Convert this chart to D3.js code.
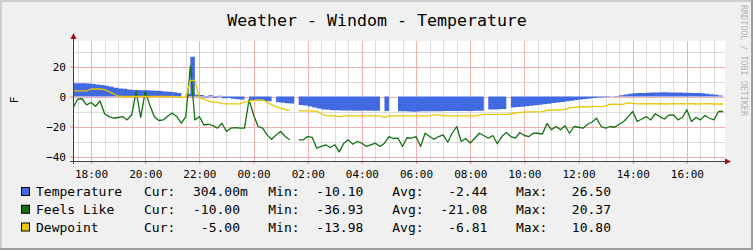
<!DOCTYPE html>
<html>
<head>
<meta charset="utf-8">
<script src="https://d3js.org/d3.v7.min.js"></script>
<style>
  body { margin: 0; background: #f0f0f0; }
  svg { display: block; font-family: "DejaVu Sans Mono", monospace; }
</style>
</head>
<body>
<svg id="chart" width="753" height="250"></svg>
<script>
// ------------- DATA ------------- //
// one sample every 10 minutes, from 17:20 to 17:20 the next day (null = no data)
var startHour = 17, startMinute = 20;
var stepMinutes = 10;

var temperature = [
  8.9, 8.9, 8.8, 8.6, 8.4, 8.0, 7.6, 7.2, 6.5, 5.9,
  5.4, 5.1, 4.7, 4.4, 4.3, 4.2, 4.1, 4.0, 3.8, 3.6,
  3.3, 3.1, 2.8, 2.4, null, 1.8, 26.5, 1.2, 1.0, -0.6,
  0.8, -0.8, 0.5, -1.2, -1.0, -1.5, -1.8, -2.0, null, -2.3,
  -2.5, -2.7, -3.0, -3.2, null, -3.8, -4.2, -4.5, -4.6, null,
  -5.6, -6.0, -6.6, -7.3, -8.0, -8.6, -8.9, -9.1, -9.2, -9.3,
  -9.4, -9.4, -9.5, -9.5, -9.4, -9.5, -9.5, -9.5, null, -9.7,
  null, null, -9.8, -9.9, -10.0, -10.1, -10.0, -9.9, -9.9, -9.8,
  -9.8, -9.8, -9.7, -9.7, -9.7, -9.6, -9.6, -9.6, -9.6, -9.5,
  -9.5, null, -8.6, -8.6, -8.5, -8.4, null, -7.3, -7.0, -6.8,
  -6.5, -6.2, -5.9, -5.5, -5.1, -4.8, -4.4, -4.0, -3.6, -3.2,
  -2.8, -2.4, -2.0, -1.6, -1.3, -1.0, -0.7, -0.5, -0.3, -0.1,
  0.3, 0.8, 1.3, 1.8, 2.1, 2.3, 2.4, 2.5, 2.6, 2.7,
  2.8, 2.8, 2.7, 2.6, 2.6, 2.5, 2.5, 2.4, 2.3, 2.1,
  1.9, 1.5, 1.1, 0.7, 0.3
];

var feelsLike = [
  -7.8, -1.8, -1.5, -5.6, -4.0, -6.5, -3.0, -11.5, -13.4, -14.5,
  -14.0, -13.4, -15.6, -12.2, 3.3, -14.0, 3.3, -5.6, -13.4, -16.0,
  -15.6, -13.0, -11.1, -13.4, -17.8, -13.4, 20.37, -15.6, -13.4, -19.0,
  -18.5, -19.4, -21.1, -17.8, -23.3, -21.1, -20.7, -21.1, -21.1, -2.2,
  -12.2, -20.0, -21.1, -25.6, -28.5, -25.6, -23.3, -26.7, -28.9, null,
  -28.9, -28.9, -26.7, -27.3, -34.5, -33.3, -32.2, -34.0, -32.2, -36.93,
  -31.1, -28.9, -31.8, -30.0, -31.1, -33.3, -32.2, -31.1, -33.3, -31.1,
  -26.7, -28.0, -27.8, -33.3, -27.5, -27.8, -26.7, -33.3, -24.5, -26.7,
  -28.5, -26.7, -25.6, -30.5, -24.5, -20.0, -30.0, -28.0, -31.0, -27.8,
  -24.5, -26.0, -27.8, -26.0, -31.5, -26.7, -24.0, -26.7, -27.8, -24.0,
  -26.0, -26.7, -24.5, -24.5, -25.0, -18.0, -22.2, -20.0, -22.2, -19.5,
  -24.5, -20.0, -20.5, -21.1, -18.5, -17.0, -14.5, -20.0, -21.1, -20.0,
  -20.5, -18.5, -16.7, -13.4, -10.0, -16.7, -15.0, -13.4, -15.6, -11.5,
  -13.4, -15.0, -12.5, -12.2, -15.6, -14.0, -8.9, -16.7, -14.0, -15.6,
  -12.7, -14.5, -15.6, -10.0, -10.0
];

var dewpoint = [
  3.7, 3.7, 3.7, 3.7, 5.0, 5.0, 5.0, 4.6, 3.3, 1.8,
  0.2, 0, 0, 0, 0, 0, 0, 0, 0, 0,
  0, 0, 0, -0.3, -0.5, -0.5, 10.8, 10.8, -1.0, -1.8,
  -3.0, -3.8, -3.8, -4.8, -4.9, -4.9, -4.9, -4.9, -3.6, -3.4,
  -2.6, -2.2, -2.3, -3.8, -5.4, -6.8, -7.8, -8.6, -9.4, null,
  -9.6, -9.6, -9.6, -9.7, -9.9, -11.5, -12.8, -12.9, -12.9, -13.4,
  -12.9, -12.9, -12.9, -12.9, -12.9, -12.9, -12.9, -12.9, -12.9, -13.98,
  -12.9, -12.9, -12.9, -12.9, -12.9, -12.9, -12.9, -12.9, -12.9, -12.9,
  -12.3, -12.3, -12.9, -12.9, -12.9, -12.9, -12.9, -12.9, -12.9, -12.9,
  -12.4, -11.9, -11.9, -11.9, -11.9, -11.9, -11.9, -11.5, -11.0, -10.6,
  -10.4, -10.3, -10.3, -10.2, -10.1, -9.3, -9.0, -9.0, -8.9, -8.6,
  -7.5, -7.3, -7.0, -6.8, -6.9, -6.6, -6.8, -6.7, -6.2, -5.2,
  -5.1, -5.2, -5.1, -4.2, -4.6, -4.9, -4.8, -4.9, -4.7, -4.9,
  -4.8, -5.0, -4.9, -4.8, -4.9, -4.7, -4.9, -4.8, -5.0, -4.9,
  -4.9, -4.8, -5.0, -5.0, -5.0
];

var yMajorTicks = [-40, -20, 0, 20];
var yMinorTicks = [-30, -10, 10, 30];

var seriesNames = ["Temperature", "Feels Like", "Dewpoint"];
var curValues = ["304.00", "-10.00", "-5.00"];
var curUnits = ["m", "", ""];
var minValues = ["-10.10", "-36.93", "-13.98"];
var avgValues = ["-2.44", "-21.08", "-6.81"];
var maxValues = ["26.50", "20.37", "10.80"];

// ------------- STYLE ------------- //
var colTemp = "#4169e1";
var colFeels = "#127112";
var colDew = "#e8c800";
var colors = [colTemp, colFeels, colDew];

var plotLeft = 73, plotRight = 723, plotTop = 41, plotBottom = 161;

var svg = d3.select("#chart");

// ------------- SCALES ------------- //
var t0 = new Date(2020, 0, 1, startHour, startMinute);
var t1 = d3.timeDay.offset(t0, 1);
function sampleTime(i) { return d3.timeMinute.offset(t0, i * stepMinutes); }

var x = d3.scaleTime().domain([t0, t1]).range([plotLeft, plotRight]);
var y = d3.scaleLinear().domain([-43, 37]).range([plotBottom, plotTop]);

// ------------- BACKGROUND ------------- //
svg.append("rect").attr("width", 753).attr("height", 250).attr("fill", "#f0f0f0");
svg.append("path").attr("d", "M0,1H752M1,0V249").attr("stroke", "#cfcfcf").attr("stroke-width", 2);
svg.append("path").attr("d", "M0,249H753M752,0V250").attr("stroke", "#9e9e9e").attr("stroke-width", 2);
svg.append("rect").attr("x", plotLeft).attr("y", plotTop).attr("width", plotRight - plotLeft + 2)
  .attr("height", plotBottom - plotTop).attr("fill", "#ffffff");

// ------------- GRID ------------- //
var grid = svg.append("g").attr("shape-rendering", "crispEdges");
grid.selectAll(".vmin").data(x.ticks(d3.timeMinute.every(30))).enter().append("line")
  .attr("x1", function(d) { return Math.round(x(d)) + 0.5; })
  .attr("x2", function(d) { return Math.round(x(d)) + 0.5; })
  .attr("y1", plotTop).attr("y2", plotBottom).attr("stroke", "#dcdcdc");
grid.selectAll(".hmin").data(yMinorTicks).enter().append("line")
  .attr("x1", plotLeft).attr("x2", plotRight + 2)
  .attr("y1", function(d) { return Math.round(y(d)) + 0.5; })
  .attr("y2", function(d) { return Math.round(y(d)) + 0.5; })
  .attr("stroke", "#dcdcdc");
grid.selectAll(".vmaj").data(x.ticks(d3.timeHour.every(2))).enter().append("line")
  .attr("x1", function(d) { return Math.round(x(d)) + 0.5; })
  .attr("x2", function(d) { return Math.round(x(d)) + 0.5; })
  .attr("y1", plotTop).attr("y2", plotBottom).attr("stroke", "#f4b0b0");
grid.selectAll(".hmaj").data(yMajorTicks).enter().append("line")
  .attr("x1", plotLeft).attr("x2", plotRight + 2)
  .attr("y1", function(d) { return Math.round(y(d)) + 0.5; })
  .attr("y2", function(d) { return Math.round(y(d)) + 0.5; })
  .attr("stroke", "#f4b0b0");

// ------------- SERIES ------------- //
svg.append("clipPath").attr("id", "plot").append("rect")
  .attr("x", plotLeft).attr("y", plotTop - 5).attr("width", plotRight - plotLeft)
  .attr("height", plotBottom - plotTop + 5);
var plot = svg.append("g").attr("clip-path", "url(#plot)");

// each sample of the area holds its value until the next sample (like rrdtool)
var areaPts = [];
temperature.forEach(function(v, i) {
  areaPts.push({ t: sampleTime(i), v: v });
  areaPts.push({ t: sampleTime(i + 1), v: v });
  if (v == null) areaPts.push({ t: sampleTime(i + 1), v: null });
});
var area = d3.area()
  .defined(function(d) { return d.v != null; })
  .x(function(d) { return x(d.t); })
  .y0(y(0))
  .y1(function(d) { return y(d.v); });
plot.append("path").attr("d", area(areaPts)).attr("fill", colTemp);

var line = d3.line()
  .defined(function(d) { return d != null; })
  .x(function(d, i) { return x(sampleTime(i)); })
  .y(function(d) { return y(d); });
plot.append("path").attr("d", line(feelsLike)).attr("fill", "none")
  .attr("stroke", colFeels).attr("stroke-width", 1.3).attr("stroke-linejoin", "round");
plot.append("path").attr("d", line(dewpoint)).attr("fill", "none")
  .attr("stroke", colDew).attr("stroke-width", 1.3).attr("stroke-linejoin", "round");

// ------------- AXES ------------- //
var xAxis = svg.append("g").attr("transform", "translate(0," + plotBottom + ")")
  .call(d3.axisBottom(x).ticks(d3.timeHour.every(2)).tickFormat(d3.timeFormat("%H:%M"))
    .tickSize(3).tickSizeOuter(0).tickPadding(6));
xAxis.select(".domain").remove();
xAxis.selectAll("line").attr("stroke", "#e09090");
xAxis.selectAll("text").attr("font-family", "DejaVu Sans Mono").attr("font-size", 11).attr("fill", "#000");

var yAxis = svg.append("g").attr("transform", "translate(" + plotLeft + ",0)")
  .call(d3.axisLeft(y).tickValues(yMajorTicks).tickSize(3).tickSizeOuter(0).tickPadding(4));
yAxis.select(".domain").remove();
yAxis.selectAll("line").attr("stroke", "#e09090");
yAxis.selectAll("text").attr("font-family", "DejaVu Sans Mono").attr("font-size", 11).attr("fill", "#000");

svg.append("path").attr("d", "M70," + (plotBottom + 0.5) + "H726").attr("stroke", "#404040");
svg.append("path").attr("d", "M" + (plotLeft + 0.5) + "," + (plotBottom + 3) + "V37").attr("stroke", "#404040");
svg.append("path").attr("d", "M725,158.5L731,161.5L725,164.5Z").attr("fill", "#a01010");
svg.append("path").attr("d", "M70.5,39L73.5,33L76.5,39Z").attr("fill", "#a01010");

// ------------- TEXT ------------- //
svg.append("text").attr("x", 377).attr("y", 26).attr("text-anchor", "middle")
  .attr("font-size", 16.6).attr("fill", "#000").text("Weather - Windom - Temperature");

svg.append("text").attr("transform", "translate(18,100) rotate(-90)").attr("text-anchor", "middle")
  .attr("font-size", 11).attr("fill", "#000").text("F");

svg.append("text").attr("transform", "translate(741,5) rotate(90)")
  .attr("font-size", 8.4).attr("fill", "#b4b4b4").text("RRDTOOL / TOBI OETIKER");

// ------------- LEGEND ------------- //
var legend = svg.append("g").attr("font-size", 13).attr("fill", "#000");
seriesNames.forEach(function(name, i) {
  var by = 196 + i * 17.75;
  legend.append("rect").attr("x", 21.5).attr("y", by - 8.5).attr("width", 8).attr("height", 8)
    .attr("fill", colors[i]).attr("stroke", "#000");
  legend.append("text").attr("x", 36).attr("y", by).text(name);
  legend.append("text").attr("x", 144).attr("y", by).text("Cur:");
  legend.append("text").attr("x", 240).attr("y", by).attr("text-anchor", "end").text(curValues[i]);
  legend.append("text").attr("x", 240).attr("y", by).text(curUnits[i]);
  legend.append("text").attr("x", 268.3).attr("y", by).text("Min:");
  legend.append("text").attr("x", 363.3).attr("y", by).attr("text-anchor", "end").text(minValues[i]);
  legend.append("text").attr("x", 392.3).attr("y", by).text("Avg:");
  legend.append("text").attr("x", 487.3).attr("y", by).attr("text-anchor", "end").text(avgValues[i]);
  legend.append("text").attr("x", 516).attr("y", by).text("Max:");
  legend.append("text").attr("x", 611).attr("y", by).attr("text-anchor", "end").text(maxValues[i]);
});
</script>
</body>
</html>
